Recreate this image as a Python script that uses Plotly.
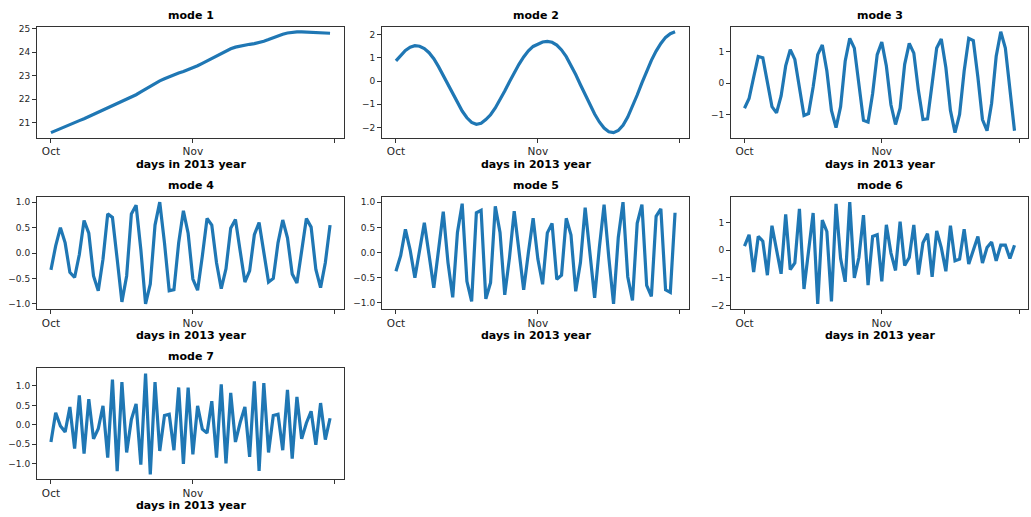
import plotly.graph_objects as go

# ---------------- data ----------------
days = list(range(60))
x_tick_vals = [0, 30, 60]
x_tick_text = ["Oct", "Nov", ""]
mode_titles = ["mode 1", "mode 2", "mode 3", "mode 4", "mode 5", "mode 6", "mode 7"]
x_title = "days in 2013 year"

mode1 = [20.58, 20.67, 20.76, 20.85, 20.93, 21.01, 21.09, 21.17, 21.26, 21.35,
         21.44, 21.53, 21.62, 21.71, 21.80, 21.89, 21.98, 22.08, 22.19, 22.31,
         22.43, 22.55, 22.67, 22.78, 22.87, 22.96, 23.04, 23.11, 23.18, 23.25,
         23.33, 23.42, 23.52, 23.62, 23.73, 23.84, 23.95, 24.05, 24.14, 24.21,
         24.26, 24.30, 24.33, 24.36, 24.40, 24.46, 24.53, 24.61, 24.69, 24.76,
         24.81, 24.84, 24.86, 24.86, 24.85, 24.84, 24.83, 24.82, 24.81, 24.80]

mode2 = [0.87, 1.12, 1.32, 1.46, 1.52, 1.50, 1.40, 1.22, 0.96, 0.62,
         0.24, -0.16, -0.56, -0.94, -1.29, -1.58, -1.78, -1.86, -1.82, -1.66,
         -1.45, -1.16, -0.82, -0.43, -0.03, 0.36, 0.72, 1.04, 1.30, 1.49,
         1.60, 1.68, 1.71, 1.67, 1.55, 1.34, 1.05, 0.69, 0.28, -0.16,
         -0.60, -1.03, -1.42, -1.76, -2.02, -2.18, -2.22, -2.13, -1.90, -1.55,
         -1.10, -0.60, -0.08, 0.43, 0.89, 1.29, 1.62, 1.88, 2.04, 2.12]

mode3 = [-0.80, -0.49, 0.19, 0.85, 0.81, 0.08, -0.75, -0.95, -0.41, 0.55,
         1.07, 0.76, -0.18, -1.03, -0.97, -0.12, 0.91, 1.22, 0.39, -0.87,
         -1.42, -0.75, 0.70, 1.43, 1.12, -0.02, -1.19, -1.24, -0.33, 0.91,
         1.31, 0.55, -0.69, -1.32, -0.80, 0.60, 1.27, 0.96, -0.23, -1.16,
         -1.14, -0.02, 1.12, 1.41, 0.50, -0.87, -1.58, -1.00, 0.39, 1.43,
         1.36, 0.19, -1.16, -1.52, -0.64, 0.86, 1.64, 1.12, -0.23, -1.52]

mode4 = [-0.33, 0.14, 0.50, 0.20, -0.38, -0.48, -0.03, 0.64, 0.39, -0.45,
         -0.74, -0.12, 0.77, 0.70, -0.12, -0.96, -0.45, 0.77, 0.94, 0.07,
         -1.00, -0.61, 0.55, 1.00, 0.20, -0.74, -0.72, 0.20, 0.83, 0.39,
         -0.51, -0.73, -0.06, 0.68, 0.55, -0.19, -0.70, -0.31, 0.49, 0.66,
         0.04, -0.57, -0.35, 0.36, 0.60, 0.00, -0.57, -0.50, 0.20, 0.65,
         0.30, -0.41, -0.59, 0.04, 0.68, 0.51, -0.32, -0.68, -0.19, 0.55]

mode5 = [-0.37, -0.06, 0.46, 0.05, -0.50, 0.05, 0.59, -0.05, -0.70, 0.05,
         0.81, -0.20, -0.89, 0.40, 0.97, -0.57, -0.97, 0.79, 0.84, -0.92,
         -0.60, 0.92, 0.40, -0.84, -0.10, 0.82, 0.05, -0.74, 0.00, 0.68,
         -0.13, -0.63, 0.39, 0.58, -0.53, -0.45, 0.68, 0.35, -0.77, -0.20,
         0.89, 0.00, -0.90, 0.10, 0.95, -0.10, -1.02, 0.30, 1.00, -0.48,
         -0.95, 0.58, 0.95, -0.65, -0.87, 0.72, 0.87, -0.74, -0.79, 0.79]

mode6 = [0.15, 0.56, -0.79, 0.50, 0.33, -0.90, 0.89, 0.00, -0.85, 1.30,
         -0.70, -0.46, 1.50, -1.40, 0.00, 1.35, -1.94, 1.09, 0.68, -1.85,
         1.68, -0.30, -1.14, 1.74, -1.00, -0.26, 1.27, -1.26, 0.50, 0.56,
         -1.12, 0.92, -0.10, -0.73, 1.04, -0.55, -0.26, 0.92, -0.88, 0.27,
         0.60, -0.96, 0.70, 0.10, -0.76, 0.89, -0.38, -0.32, 0.76, -0.50,
         0.00, 0.50, -0.46, 0.10, 0.30, -0.38, 0.19, 0.19, -0.30, 0.18]

mode7 = [-0.44, 0.31, -0.03, -0.18, 0.46, -0.61, 0.76, -0.74, 0.66, -0.36,
         -0.10, 0.49, -0.84, 1.16, -1.19, 1.10, -0.71, 0.14, 0.54, -1.02,
         1.32, -1.27, 1.10, -0.67, 0.24, 0.27, -0.65, 0.96, -1.00, 0.96,
         -0.76, 0.49, -0.11, -0.21, 0.61, -0.84, 1.04, -0.99, 0.82, -0.44,
         0.06, 0.46, -0.82, 1.12, -1.18, 1.07, -0.71, 0.24, 0.27, -0.65,
         0.90, -0.87, 0.72, -0.36, 0.05, 0.35, -0.51, 0.56, -0.38, 0.17]

series = [mode1, mode2, mode3, mode4, mode5, mode6, mode7]

# ---------------- styling / layout ----------------
y_dticks = [1, 1, 1, 0.5, 0.5, 1, 0.5]
y_formats = ["d", "d", "d", ".1f", ".1f", "d", ".1f"]

W, H = 1031, 517
col_px = [(37, 344), (382, 689), (731, 1028)]
row_px = [(24, 136), (196, 309), (369, 481)]
FONT = "DejaVu Sans"
AX_COLOR = "#333333"
TXT_COLOR = "#262626"

fig = go.Figure()
layout = dict(
    width=W, height=H, margin=dict(l=0, r=0, t=0, b=0),
    paper_bgcolor="white", plot_bgcolor="white",
    showlegend=False, font=dict(family=FONT, color=TXT_COLOR),
)
annotations = []

for k, vals in enumerate(series):
    r, c = divmod(k, 3)
    sfx = "" if k == 0 else str(k + 1)
    fig.add_trace(go.Scatter(
        x=days, y=vals, mode="lines",
        line=dict(color="#1f77b4", width=3.2),
        xaxis="x" + sfx, yaxis="y" + sfx, hoverinfo="skip", showlegend=False,
    ))
    xd = [col_px[c][0] / W, col_px[c][1] / W]
    yd = [1 - row_px[r][1] / H, 1 - row_px[r][0] / H]
    ymin, ymax = min(vals), max(vals)
    pad = 0.05 * (ymax - ymin)
    xpad = 0.05 * (days[-1] - days[0])
    layout["xaxis" + sfx] = dict(
        domain=xd, anchor="y" + sfx,
        range=[days[0] - xpad, days[-1] + xpad],
        tickmode="array", tickvals=x_tick_vals, ticktext=x_tick_text,
        ticks="outside", ticklen=4, tickwidth=1, tickcolor=AX_COLOR,
        showline=True, mirror=True, linecolor=AX_COLOR, linewidth=1,
        showgrid=False, zeroline=False,
        tickfont=dict(family=FONT, size=10.5, color=TXT_COLOR),
    )
    layout["yaxis" + sfx] = dict(
        domain=yd, anchor="x" + sfx,
        range=[ymin - pad, ymax + pad],
        tickmode="linear", tick0=0, dtick=y_dticks[k], tickformat=y_formats[k],
        ticks="outside", ticklen=4, tickwidth=1, tickcolor=AX_COLOR,
        showline=True, mirror=True, linecolor=AX_COLOR, linewidth=1,
        showgrid=False, zeroline=False,
        tickfont=dict(family=FONT, size=9, color=TXT_COLOR),
    )
    xm = (xd[0] + xd[1]) / 2
    annotations.append(dict(
        x=xm, y=yd[1], xref="paper", yref="paper", xanchor="center", yanchor="bottom",
        yshift=3, showarrow=False, text="<b>" + mode_titles[k] + "</b>",
        font=dict(family=FONT, size=11, color="black"),
    ))
    annotations.append(dict(
        x=xm, y=yd[0], xref="paper", yref="paper", xanchor="center", yanchor="top",
        yshift=-18, showarrow=False, text="<b>" + x_title + "</b>",
        font=dict(family=FONT, size=11, color="black"),
    ))

layout["annotations"] = annotations
fig.update_layout(**layout)
fig.write_html("out.html")
